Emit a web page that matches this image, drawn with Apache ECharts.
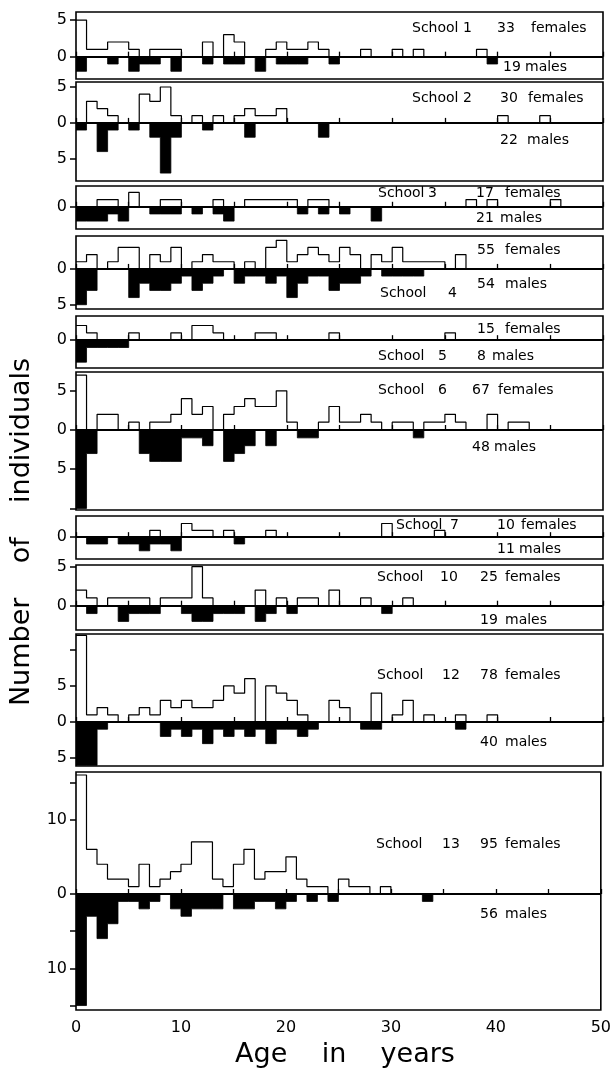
<!DOCTYPE html>
<html>
<head>
<meta charset="utf-8">
<script src="https://cdn.jsdelivr.net/npm/echarts@6/dist/echarts.min.js"></script>
<style>
html,body{margin:0;padding:0;background:#fff;}
#chart{width:614px;height:1073px;}
</style>
</head>
<body>
<div id="chart"></div>
<script>
// ---------- DATA: counts per 1-year age class (index = age in years) ----------
const schoolNames = ['School 1','School 2','School 3','School 4','School 5','School 6','School 7','School 10','School 12','School 13'];
const femaleTotals = [33, 30, 17, 55, 15, 67, 10, 25, 78, 95];
const maleTotals   = [19, 22, 21, 54, 8, 48, 11, 19, 40, 56];

const females1 = [5,1,1,2,2,1,0,1,1,1,0,0,2,0,3,2,0,0,1,2,1,1,2,1,0,0,0,1,0,0,1,0,1,0,0,0,0,0,1];
const males1   = [2,0,0,1,0,2,1,1,0,2,0,0,1,0,1,1,0,2,0,1,1,1,0,0,1,0,0,0,0,0,0,0,0,0,0,0,0,0,0,1];
const females2 = [0,3,2,1,0,0,4,3,5,1,0,1,0,1,0,1,2,1,1,2,0,0,0,0,0,0,0,0,0,0,0,0,0,0,0,0,0,0,0,0,1,0,0,0,1];
const males2   = [1,0,4,1,0,1,0,2,7,2,0,0,1,0,0,0,2,0,0,0,0,0,0,2];
const females3 = [0,0,1,1,0,2,0,0,1,1,0,0,0,1,0,0,1,1,1,1,1,0,1,1,0,0,0,0,0,0,0,0,0,0,0,0,0,1,0,1,0,0,0,0,0,1];
const males3   = [2,2,2,1,2,0,0,1,1,1,0,1,0,1,2,0,0,0,0,0,0,1,0,1,0,1,0,0,2];
const females4 = [1,2,0,1,3,3,0,2,1,3,0,1,2,1,1,0,1,0,3,4,1,2,3,2,1,3,2,0,2,1,3,1,1,1,1,0,2];
const males4   = [5,3,0,0,0,4,2,3,3,2,1,3,2,1,0,2,1,1,2,1,4,2,1,1,3,2,2,1,0,1,1,1,1];
const females5 = [2,1,0,0,0,1,0,0,0,1,0,2,2,1,0,0,0,1,1,0,0,0,0,0,1,0,0,0,0,0,0,0,0,0,0,1];
const males5   = [3,1,1,1,1];
const females6 = [7,0,2,2,0,1,0,1,1,2,4,2,3,0,2,3,4,3,3,5,1,0,0,1,3,1,1,2,1,0,1,1,0,1,1,2,1,0,0,2,0,1,1];
const males6   = [10,3,0,0,0,0,3,4,4,4,1,1,2,0,4,3,2,0,2,0,0,1,1,0,0,0,0,0,0,0,0,0,1];
const females7 = [0,0,0,0,0,0,0,1,0,0,2,1,1,0,1,0,0,0,1,0,0,0,0,0,0,0,0,0,0,2,0,0,0,0,1];
const males7   = [0,1,1,0,1,1,2,1,1,2,0,0,0,0,0,1];
const females10 = [2,1,0,1,1,1,1,0,1,1,1,5,1,0,0,0,0,2,0,1,0,1,1,0,2,0,0,1,0,0,0,1];
const males10   = [0,1,0,0,2,1,1,1,0,0,1,2,2,1,1,1,0,2,1,0,1,0,0,0,0,0,0,0,0,1];
const females12 = [12,1,2,1,0,1,2,1,3,2,3,2,2,3,5,4,6,0,5,4,3,1,0,0,3,2,0,0,4,0,1,3,0,1,0,0,1,0,0,1];
const males12   = [6,6,1,0,0,0,0,0,2,1,2,1,3,1,2,1,2,1,3,1,1,2,1,0,0,0,0,1,1,0,0,0,0,0,0,0,1];
const females13 = [16,6,4,2,2,1,4,1,2,3,4,7,7,2,1,4,6,2,3,3,5,2,1,1,0,2,1,1,0,1];
const males13   = [15,3,6,4,1,1,2,1,0,2,3,2,2,2,0,2,2,1,1,2,1,0,1,0,1,0,0,0,0,0,0,0,0,1];

const femaleSets = [females1,females2,females3,females4,females5,females6,females7,females10,females12,females13];
const maleSets   = [males1,males2,males3,males4,males5,males6,males7,males10,males12,males13];

// axis ticks (negative = below the zero line, males)
const yTickValues = [[0,5],[-5,0,5],[0],[-5,0],[0],[-10,-5,0,5],[0],[0,5],[-5,0,5,10],[-15,-10,-5,0,10,15]];
const yLabelValues = [[0,5],[-5,0,5],[0],[-5,0],[0],[-5,0,5],[0],[0,5],[-5,0,5],[-10,0,10]];
const xTickLabels = [0,10,20,30,40,50];

// ---------- LAYOUT ----------
const panelTop    = [12, 82, 186, 236, 316, 372, 516, 565, 634, 772];
const panelBottom = [79, 181, 229, 309, 368, 510, 559, 630, 766, 1010];
const yMax = [6.1, 5.7, 2.9, 4.6, 3.3, 7.4, 3.1, 5.2, 12.2, 16.4];
const yMin = [-3.05, -8.1, -3.1, -5.6, -3.8, -10.2, -3.2, -3.1, -6.1, -15.6];
const plotLeft = 76, plotRight = 603;

// text placements: [x, y, text]
const panelTexts = [
  [[412,28,schoolNames[0]],[497,28,String(femaleTotals[0])],[531,28,'females'],[503,67.5,String(maleTotals[0])],[525,67.5,'males']],
  [[412,98,schoolNames[1]],[500,98,String(femaleTotals[1])],[528,98,'females'],[500,140,String(maleTotals[1])],[527,140,'males']],
  [[378,193,'School'],[428,193,'3'],[476,193,String(femaleTotals[2])],[505,193,'females'],[476,218.5,String(maleTotals[2])],[500,218.5,'males']],
  [[477,250.5,String(femaleTotals[3])],[505,250.5,'females'],[477,284,String(maleTotals[3])],[505,284,'males'],[380,293,'School'],[448,293,'4']],
  [[477,329,String(femaleTotals[4])],[505,329,'females'],[378,356,'School'],[438,356,'5'],[477,356,String(maleTotals[4])],[492,356,'males']],
  [[378,390.6,'School'],[438,390.6,'6'],[472,390.6,String(femaleTotals[5])],[498,390.6,'females'],[472,447,String(maleTotals[5])],[494,447,'males']],
  [[396,525.7,'School'],[450,525.7,'7'],[497,525.7,String(femaleTotals[6])],[521,525.7,'females'],[497,549,String(maleTotals[6])],[519,549,'males']],
  [[377,577,'School'],[440,577,'10'],[480,577,String(femaleTotals[7])],[505,577,'females'],[480,620.7,String(maleTotals[7])],[505,620.7,'males']],
  [[377,675.7,'School'],[442,675.7,'12'],[480,675.7,String(femaleTotals[8])],[505,675.7,'females'],[480,742.6,String(maleTotals[8])],[505,742.6,'males']],
  [[376,844,'School'],[442,844,'13'],[480,844,String(femaleTotals[9])],[505,844,'females'],[480,914,String(maleTotals[9])],[505,914,'males']]
];

const FONT = 'DejaVu Sans';
const NBINS = 50;

function stepData(arr, sign) {
  const d = [];
  for (let i = 0; i < NBINS; i++) d.push([i, sign * (arr[i] || 0)]);
  d.push([NBINS, 0]);
  return d;
}

const grids = [], xAxes = [], yAxes = [], series = [];
for (let p = 0; p < 10; p++) {
  grids.push({
    left: plotLeft, width: plotRight - plotLeft,
    top: panelTop[p], height: panelBottom[p] - panelTop[p],
    show: true, borderColor: '#000', borderWidth: 1.6, backgroundColor: 'transparent'
  });
  const last = p === 9;
  xAxes.push({
    type: 'value', gridIndex: p, min: 0, max: 50, interval: 5,
    axisLine: { show: false }, splitLine: { show: false },
    axisTick: { show: true, inside: true, length: 5, lineStyle: { color: '#000', width: 1.3 } },
    axisLabel: {
      show: last, color: '#000', fontFamily: FONT, fontSize: 16, margin: 10,
      formatter: v => (xTickLabels.indexOf(v) >= 0 ? String(v) : '')
    }
  });
  yAxes.push({
    type: 'value', gridIndex: p, min: yMin[p], max: yMax[p],
    axisLine: { show: false }, splitLine: { show: false },
    axisTick: { show: true, length: 6, customValues: yTickValues[p], lineStyle: { color: '#000', width: 1.5 } },
    axisLabel: {
      show: true, customValues: yLabelValues[p], color: '#000', fontFamily: FONT, fontSize: 16, margin: 9,
      formatter: v => String(Math.abs(Math.round(v)))
    }
  });
  series.push({
    name: 'males ' + schoolNames[p], type: 'line', step: 'end',
    xAxisIndex: p, yAxisIndex: p, data: stepData(maleSets[p], -1),
    symbol: 'none', silent: true, z: 2,
    lineStyle: { color: '#000', width: 0.8 },
    areaStyle: { color: '#000', opacity: 1 }
  });
  series.push({
    name: 'females ' + schoolNames[p], type: 'line', step: 'end',
    xAxisIndex: p, yAxisIndex: p, data: stepData(femaleSets[p], 1),
    symbol: 'none', silent: true, z: 3,
    lineStyle: { color: '#000', width: 1.2 },
    markLine: {
      silent: true, symbol: 'none', label: { show: false },
      lineStyle: { color: '#000', width: 1.8, type: 'solid' },
      data: [{ yAxis: 0 }]
    }
  });
}

const graphics = [];
panelTexts.forEach(list => list.forEach(t => {
  graphics.push({
    type: 'text', x: t[0], y: t[1], silent: true, z: 10,
    style: { text: t[2], fill: '#000', font: '14px ' + FONT, align: 'left', verticalAlign: 'middle', textAlign: 'left', textVerticalAlign: 'middle' }
  });
}));
graphics.push({
  type: 'text', x: 345, y: 1055, silent: true,
  style: { text: 'Age    in    years', fill: '#000', font: '27px ' + FONT, align: 'center', verticalAlign: 'middle', textAlign: 'center', textVerticalAlign: 'middle' }
});
graphics.push({
  type: 'text', x: 22, y: 532, rotation: Math.PI / 2, silent: true,
  style: { text: 'Number    of    individuals', fill: '#000', font: '27px ' + FONT, align: 'center', verticalAlign: 'middle', textAlign: 'center', textVerticalAlign: 'middle' }
});

const chart = echarts.init(document.getElementById('chart'), null, { renderer: 'canvas' });
chart.setOption({
  animation: false,
  backgroundColor: '#fff',
  grid: grids, xAxis: xAxes, yAxis: yAxes, series: series,
  graphic: graphics
});
</script>
</body>
</html>
